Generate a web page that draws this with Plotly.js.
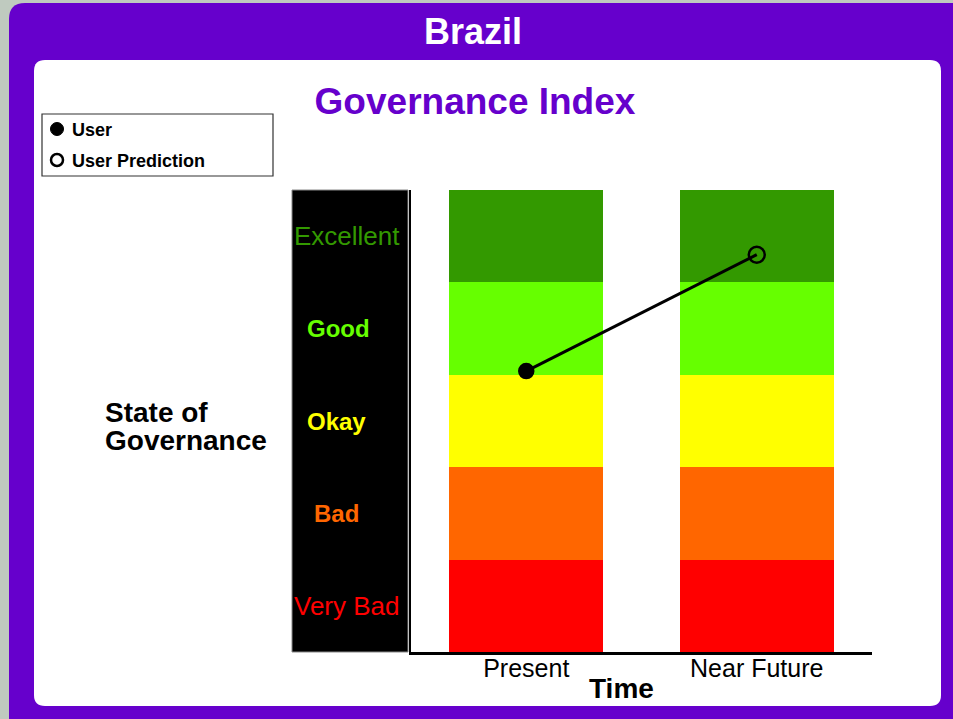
<!DOCTYPE html>
<html>
<head>
<meta charset="utf-8">
<script src="https://cdn.plot.ly/plotly-3.0.1.min.js"></script>
<style>
  html, body { margin: 0; padding: 0; background: #bfcabf; }
  #chart { width: 953px; height: 719px; }
</style>
</head>
<body>
<div id="chart"></div>
<script>
// ---- data ----
const country = 'Brazil';
const chartTitle = 'Governance Index';
const periods = ['Present', 'Near Future'];
const bands = ['Very Bad', 'Bad', 'Okay', 'Good', 'Excellent'];
const bandHeights = [1, 1, 1, 1, 1];
const userValues = [3.04, 4.30];
const legendLabels = ['User', 'User Prediction'];
const yTitleLines = ['State of', 'Governance'];
const xTitle = 'Time';

// ---- styles ----
const bandColors = ['#ff0000', '#ff6600', '#ffff00', '#66ff00', '#339900'];
const bandBold = [false, true, true, true, false];
const bandCenterPx = [347, 336, 336, 338, 347];
const purple = '#6600cc';
const FONT = 'Liberation Sans, Arial, Helvetica, sans-serif';

// plot area in pixels
const W = 953, H = 719;
const L = 411, R = 872, T = 190, B = 652;
const X = px => (px - L) / (R - L);
const Y = py => (B - py) / (B - T);

function roundRect(x0, y0, x1, y1, r) {
  const rx = r / (R - L), ry = r / (B - T);
  const a = X(x0), b = X(x1), c = Y(y0), d = Y(y1); // c top, d bottom
  return `M ${a + rx},${c} L ${b - rx},${c} Q ${b},${c} ${b},${c - ry} ` +
         `L ${b},${d + ry} Q ${b},${d} ${b - rx},${d} L ${a + rx},${d} ` +
         `Q ${a},${d} ${a},${d + ry} L ${a},${c - ry} Q ${a},${c} ${a + rx},${c} Z`;
}

const traces = bands.map((name, i) => ({
  type: 'bar',
  x: periods,
  y: periods.map(() => bandHeights[i]),
  name: name,
  width: 0.667,
  marker: { color: bandColors[i], line: { width: 0 } },
  showlegend: false,
  hoverinfo: 'skip'
}));

traces.push({
  type: 'scatter',
  mode: 'lines+markers',
  x: periods,
  y: userValues,
  line: { color: '#000000', width: 3 },
  marker: {
    symbol: ['circle', 'circle-open'],
    size: [14, 16],
    opacity: 1,
    color: '#000000',
    line: { color: '#000000', width: 2.5 }
  },
  showlegend: false,
  hoverinfo: 'skip',
  cliponaxis: false
});

const shapes = [
  // purple frame
  { type: 'path', xref: 'paper', yref: 'paper', layer: 'below',
    path: roundRect(9, 3, 975, 740, 16), fillcolor: purple, line: { width: 0 } },
  // white panel
  { type: 'path', xref: 'paper', yref: 'paper', layer: 'below',
    path: roundRect(34, 60, 941, 706, 11), fillcolor: '#ffffff', line: { width: 0 } },
  // black label column
  { type: 'rect', xref: 'paper', yref: 'paper', layer: 'below',
    x0: X(292), x1: X(408), y0: Y(190), y1: Y(652),
    fillcolor: '#000000', line: { color: '#888888', width: 1 } },
  // legend box
  { type: 'rect', xref: 'paper', yref: 'paper', layer: 'above',
    x0: X(42), x1: X(273), y0: Y(114), y1: Y(176),
    fillcolor: '#ffffff', line: { color: '#333333', width: 1.2 } },
  // legend markers
  { type: 'circle', xref: 'paper', yref: 'paper', layer: 'above',
    x0: X(50.5), x1: X(63.5), y0: Y(122.5), y1: Y(135.5),
    fillcolor: '#000000', line: { color: '#000000', width: 1 } },
  { type: 'circle', xref: 'paper', yref: 'paper', layer: 'above',
    x0: X(51), x1: X(63), y0: Y(154), y1: Y(166),
    fillcolor: 'rgba(0,0,0,0)', line: { color: '#000000', width: 2.5 } }
];

const annotations = [];
annotations.push({
  xref: 'paper', yref: 'paper', x: X(473), y: Y(32), xanchor: 'center', yanchor: 'middle',
  text: '<b>' + country + '</b>', showarrow: false,
  font: { family: FONT, size: 36, color: '#ffffff' }
});
bands.forEach((name, i) => {
  annotations.push({
    xref: 'paper', yref: 'y', x: X(bandCenterPx[i]), y: i + 0.5, xanchor: 'center', yanchor: 'middle',
    text: bandBold[i] ? '<b>' + name + '</b>' : name, showarrow: false,
    font: { family: FONT, size: bandBold[i] ? 24 : 26, color: bandColors[i] }
  });
});
yTitleLines.forEach((line, i) => {
  annotations.push({
    xref: 'paper', yref: 'paper', x: X(103), y: Y(412 + 28 * i), xanchor: 'left', yanchor: 'middle',
    text: '<b>' + line + '</b>', showarrow: false,
    font: { family: FONT, size: 28, color: '#000000' }
  });
});
annotations.push({
  xref: 'paper', yref: 'paper', x: X(621), y: Y(688), xanchor: 'center', yanchor: 'middle',
  text: '<b>' + xTitle + '</b>', showarrow: false,
  font: { family: FONT, size: 28, color: '#000000' }
});
legendLabels.forEach((lab, i) => {
  annotations.push({
    xref: 'paper', yref: 'paper', x: X(70), y: Y(129.5 + 31 * i), xanchor: 'left', yanchor: 'middle',
    text: '<b>' + lab + '</b>', showarrow: false,
    font: { family: FONT, size: 18, color: '#000000' }
  });
});

const layout = {
  width: W, height: H,
  margin: { l: L, r: W - R, t: T, b: H - B, pad: 0 },
  paper_bgcolor: '#bfcabf',
  plot_bgcolor: 'rgba(0,0,0,0)',
  barmode: 'stack',
  showlegend: false,
  title: {
    text: '<b>' + chartTitle + '</b>',
    x: 475 / W, xref: 'container', xanchor: 'center',
    y: 1 - 101 / H, yref: 'container', yanchor: 'middle',
    font: { family: FONT, size: 37, color: purple }
  },
  xaxis: {
    type: 'category',
    range: [-0.5, 1.5],
    showgrid: false, zeroline: false,
    showline: true, linecolor: '#000000', linewidth: 2.5,
    ticks: '', ticklabelstandoff: -8,
    tickfont: { family: FONT, size: 25, color: '#000000' },
    fixedrange: true
  },
  yaxis: {
    range: [0, 5],
    showgrid: false, zeroline: false,
    showline: true, linecolor: '#000000', linewidth: 2.5,
    showticklabels: false, ticks: '',
    fixedrange: true
  },
  shapes: shapes,
  annotations: annotations
};

Plotly.newPlot('chart', traces, layout, { displayModeBar: false, staticPlot: true });
</script>
</body>
</html>
